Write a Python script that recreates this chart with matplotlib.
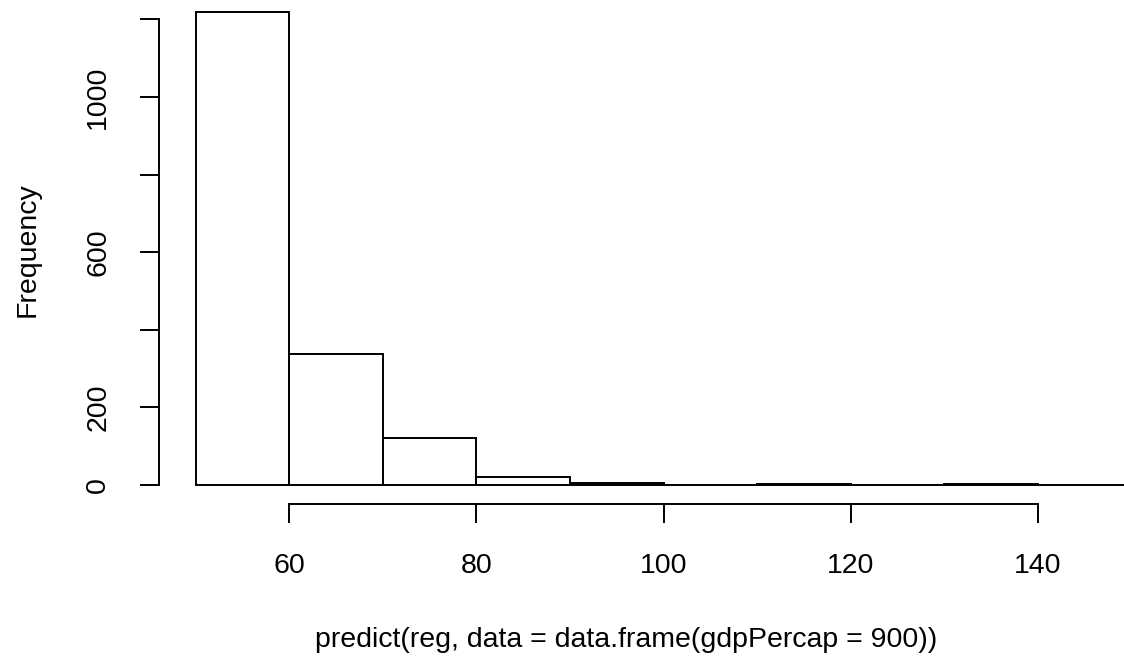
import matplotlib
matplotlib.use("Agg")
import matplotlib.pyplot as plt
import numpy as np

# Histogram data (bin breaks and counts)
breaks = [50, 60, 70, 80, 90, 100, 110, 120, 130, 140, 150]
counts = [1218, 338, 121, 21, 4, 1, 2, 1, 3, 1]
x_ticks = [60, 80, 100, 120, 140]
y_ticks = [0, 200, 400, 600, 800, 1000, 1200]
y_tick_labels = ["0", "200", "", "600", "", "1000", ""]
x_label = "predict(reg, data = data.frame(gdpPercap = 900))"
y_label = "Frequency"

plt.rcParams['font.family'] = ['Liberation Sans', 'DejaVu Sans']

W, H = 1124, 659
fig = plt.figure(figsize=(W / 100, H / 100), dpi=100)

# R-style 4% axis extension
xmin, xmax = breaks[0], breaks[-1]
xr = xmax - xmin
xlim = (xmin - 0.04 * xr, xmax + 0.04 * xr)
ymax = max(counts)
ylim = (-0.04 * ymax, ymax * 1.04)

# place axes in pixel coords (plot region extends slightly beyond figure)
left_px, right_px = 158.5, 1168.5
zero_px = 485.0
scale = (485.0 - 97.0) / 1000.0
bottom_px = zero_px - ylim[0] * scale  # pixel y of ylim[0] (from top)
top_px = zero_px - ylim[1] * scale
ax = fig.add_axes([left_px / W, (H - bottom_px) / H,
                   (right_px - left_px) / W, (bottom_px - top_px) / H])
ax.set_xlim(*xlim)
ax.set_ylim(*ylim)

lefts = breaks[:-1]
widths = np.diff(breaks)
ax.bar(lefts, counts, width=widths, align='edge', facecolor='white',
       edgecolor='black', linewidth=1.4, clip_on=False)

for s in ['top', 'right']:
    ax.spines[s].set_visible(False)
ax.spines['left'].set_bounds(0, 1200)
ax.spines['bottom'].set_bounds(60, 140)
for s in ['left', 'bottom']:
    ax.spines[s].set_linewidth(1.4)

fs = 20.5
ax.set_xticks(x_ticks)
ax.set_xticklabels([str(t) for t in x_ticks])
ax.set_yticks(y_ticks)
ax.set_yticklabels(y_tick_labels, rotation=90, va='center')
ax.tick_params(axis='both', direction='out', length=14, width=1.4,
               labelsize=fs, colors='black')
ax.tick_params(axis='x', pad=21)
ax.tick_params(axis='y', pad=20)

fig.text(626 / W, (H - 640) / H, x_label, ha='center', va='center', fontsize=fs)
fig.text(28 / W, (H - 250) / H, y_label, ha='center', va='center',
         fontsize=fs, rotation=90)

fig.savefig("out.png", dpi=100)
